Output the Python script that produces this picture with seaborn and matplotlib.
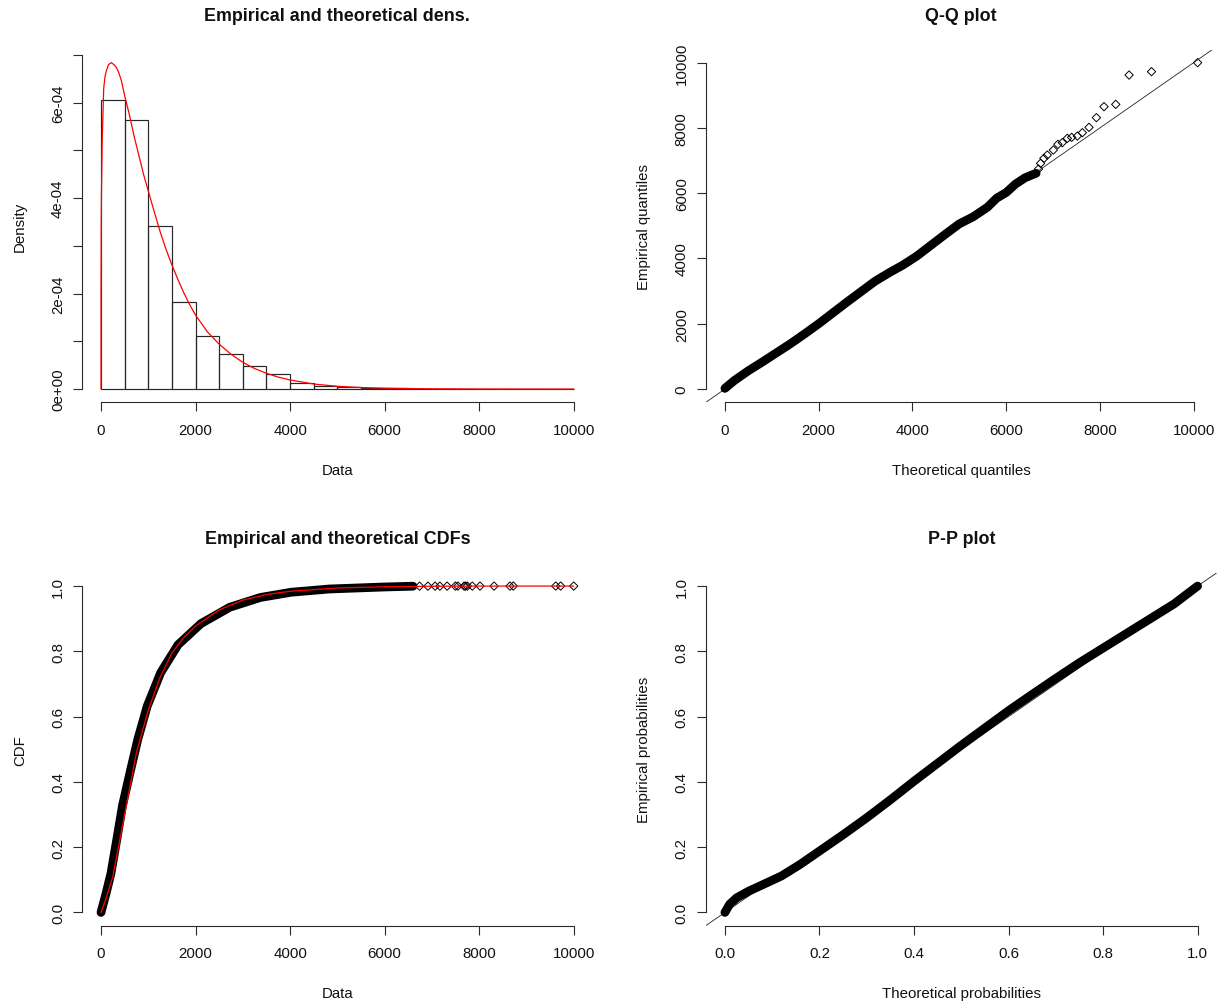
import numpy as np
import pandas as pd
import matplotlib
matplotlib.use("Agg")
import matplotlib.pyplot as plt
import seaborn as sns

# ---------------- data ----------------
bin_edges = [0, 500, 1000, 1500, 2000, 2500, 3000, 3500, 4000, 4500, 5000,
             5500, 6000, 6500, 7000, 7500, 8000, 8500, 9000, 9500, 10000]
hist_density = [6.05e-4, 5.63e-4, 3.41e-4, 1.83e-4, 1.12e-4, 0.735e-4,
                0.483e-4, 0.315e-4, 0.12e-4, 0.063e-4, 0.035e-4, 0.02e-4,
                0.012e-4, 0.005e-4, 0.003e-4, 0.002e-4, 0.002e-4, 0.001e-4,
                0.002e-4, 0.001e-4]

dens_x = [0, 1, 5, 10, 25, 57, 85, 113, 160, 220, 270, 326, 380, 432, 500,
          600, 700, 800, 900, 1000, 1125, 1250, 1375, 1500, 1625, 1750, 1875,
          2000, 2250, 2500, 2750, 3000, 3250, 3500, 3750, 4000, 4500, 5000,
          5500, 6000, 6500, 7000, 8000, 9000, 10000]
dens_y = [0, 2.0e-4, 3.5e-4, 4.1e-4, 5.2e-4, 6.3e-4, 6.55e-4, 6.67e-4,
          6.8e-4, 6.84e-4, 6.8e-4, 6.74e-4, 6.62e-4, 6.46e-4, 6.15e-4,
          5.75e-4, 5.3e-4, 4.9e-4, 4.5e-4, 4.15e-4, 3.72e-4, 3.3e-4, 2.93e-4,
          2.6e-4, 2.3e-4, 2.02e-4, 1.77e-4, 1.55e-4, 1.2e-4, 0.94e-4,
          0.73e-4, 0.56e-4, 0.43e-4, 0.33e-4, 0.25e-4, 0.19e-4, 0.105e-4,
          0.058e-4, 0.032e-4, 0.018e-4, 0.01e-4, 0.0055e-4, 0.0016e-4,
          0.0005e-4, 0.00015e-4]

# Q-Q: dense body of points, then isolated tail points
qq_theo = [0, 200, 500, 800, 1100, 1400, 1700, 2000, 2300, 2600, 2900, 3200,
           3500, 3800, 4100, 4400, 4700, 5000, 5300, 5600, 5800, 6000, 6200,
           6400, 6550, 6640]
qq_emp = [20, 260, 560, 830, 1110, 1390, 1690, 2000, 2330, 2660, 2980, 3300,
          3560, 3800, 4080, 4410, 4740, 5060, 5280, 5570, 5850, 6020, 6280,
          6470, 6560, 6610]
qq_tail_theo = [6690, 6735, 6806, 6878, 7007, 7105, 7199, 7306, 7398, 7520,
                7627, 7768, 7926, 8088, 8339, 8623, 9102, 10085]
qq_tail_emp = [6740, 6915, 7068, 7169, 7322, 7497, 7549, 7681, 7711, 7751,
               7855, 8018, 8315, 8652, 8722, 9620, 9724, 10000]

# CDF panel
cdf_x = [0, 40, 110, 211, 330, 454, 616, 778, 980, 1264, 1629, 2115, 2723,
         3371, 4019, 4830, 5964, 6600]
cdf_emp = [0, 0.022, 0.06, 0.12, 0.22, 0.327, 0.43, 0.53, 0.633, 0.735,
           0.82, 0.885, 0.935, 0.965, 0.981, 0.991, 0.997, 0.9995]
cdf_tail_x = [6740, 6915, 7068, 7169, 7322, 7497, 7549, 7681, 7711, 7751,
              7855, 8018, 8315, 8652, 8722, 9620, 9724, 10000]
cdf_tail_p = [0.9996, 0.9996, 0.9997, 0.9997, 0.9997, 0.9998, 0.9998, 0.9998,
              0.9998, 0.9999, 0.9999, 0.9999, 0.9999, 0.9999, 1.0, 1.0, 1.0,
              1.0]
cdf_theo_x = [0, 100, 250, 500, 750, 1000, 1250, 1500, 1750, 2000, 2500,
              3000, 3500, 4000, 5000, 6000, 7000, 8000, 10000]
cdf_theo_p = [0, 0.04, 0.11, 0.30, 0.49, 0.62, 0.72, 0.795, 0.842, 0.877,
              0.927, 0.957, 0.974, 0.984, 0.994, 0.998, 0.9995, 0.9999, 1.0]

# P-P panel
pp_theo = [0, 0.01, 0.025, 0.05, 0.08, 0.12, 0.16, 0.2, 0.25, 0.3, 0.35, 0.4,
           0.45, 0.5, 0.55, 0.6, 0.65, 0.7, 0.75, 0.8, 0.85, 0.9, 0.95, 0.98,
           1.0]
pp_emp = [0, 0.025, 0.045, 0.065, 0.085, 0.112, 0.148, 0.188, 0.238, 0.29,
          0.345, 0.402, 0.457, 0.512, 0.565, 0.618, 0.668, 0.717, 0.765, 0.81,
          0.855, 0.9, 0.945, 0.978, 1.0]

titles = ["Empirical and theoretical dens.", "Q-Q plot",
          "Empirical and theoretical CDFs", "P-P plot"]
xlabels = ["Data", "Theoretical quantiles", "Data", "Theoretical probabilities"]
ylabels = ["Density", "Empirical quantiles", "CDF", "Empirical probabilities"]

data_ticks = [0, 2000, 4000, 6000, 8000, 10000]
data_tick_labels = ["0", "2000", "4000", "6000", "8000", "10000"]
dens_ticks = [0, 1e-4, 2e-4, 3e-4, 4e-4, 5e-4, 6e-4, 7e-4]
dens_tick_labels = ["0e+00", "", "2e-04", "", "4e-04", "", "6e-04", ""]
prob_ticks = [0, 0.2, 0.4, 0.6, 0.8, 1.0]
prob_tick_labels = ["0.0", "0.2", "0.4", "0.6", "0.8", "1.0"]

# ---------------- style ----------------
sns.set_style("white")
plt.rcParams["font.family"] = ["Liberation Sans", "DejaVu Sans"]

W, H = 1217, 1003
fig = plt.figure(figsize=(W / 100, H / 100), dpi=100)
fig.patch.set_facecolor("white")

AXW, AXH = 510.5, 352.5
def make_ax(left_px, top_px):
    return fig.add_axes([left_px / W, 1 - (top_px + AXH) / H, AXW / W, AXH / H])

ax_d = make_ax(82.1, 50.6)
ax_q = make_ax(706.0, 50.6)
ax_c = make_ax(82.1, 574.0)
ax_p = make_ax(706.0, 574.0)

AXC = "#2a2a2a"
TXT = "#111111"
FS = 10.8
BAND = 6.3

def style(ax, xlim, ylim, xt, xtl, yt, ytl, title, xl, yl):
    ax.set_facecolor("white")
    ax.set_xlim(xlim)
    ax.set_ylim(ylim)
    for s in ["top", "right"]:
        ax.spines[s].set_visible(False)
    ax.spines["bottom"].set_bounds(xt[0], xt[-1])
    ax.spines["left"].set_bounds(yt[0], yt[-1])
    for s in ["bottom", "left"]:
        ax.spines[s].set_color(AXC)
        ax.spines[s].set_linewidth(0.8)
    ax.set_xticks(xt)
    ax.set_xticklabels(xtl)
    ax.set_yticks(yt)
    ax.set_yticklabels(ytl)
    ax.tick_params(axis="both", which="major", direction="out", length=6.8,
                   width=0.8, color=AXC, labelsize=FS, labelcolor=TXT,
                   bottom=True, left=True, top=False, right=False)
    ax.tick_params(axis="x", pad=8.3)
    ax.tick_params(axis="y", pad=5.6, labelrotation=90)
    for lab in ax.get_yticklabels():
        lab.set_va("center")
    ax.set_xlabel(xl, fontsize=FS, color=TXT)
    ax.xaxis.set_label_coords(0.5, -67.5 / AXH)
    ax.xaxis.label.set_va("center")
    ax.set_ylabel(yl, fontsize=FS, color=TXT)
    ax.yaxis.set_label_coords(-62 / AXW, 0.5)
    ax.yaxis.label.set_va("center")
    ax.text(0.5, 1 + 34.0 / AXH, title, transform=ax.transAxes, ha="center",
            va="center", fontsize=12.9, fontweight="bold", color=TXT)

# ---------------- panel 1: histogram + density ----------------
bin_mids = [(a + b) / 2 for a, b in zip(bin_edges[:-1], bin_edges[1:])]
sns.histplot(x=bin_mids, weights=hist_density, bins=bin_edges, stat="count",
             fill=False, element="bars", color="#262626", linewidth=0.85,
             ax=ax_d)
sns.lineplot(x=dens_x, y=dens_y, sort=False, estimator=None, color="red",
             linewidth=0.9, ax=ax_d)
dmax = max(max(dens_y), max(hist_density))
style(ax_d, (-400, 10400), (-0.04 * dmax, 1.04 * dmax), data_ticks,
      data_tick_labels, dens_ticks, dens_tick_labels, titles[0], xlabels[0],
      ylabels[0])

# ---------------- panel 2: Q-Q ----------------
ax_q.axline((0, 0), slope=1, color="#222222", linewidth=0.6)
sns.lineplot(x=qq_theo, y=qq_emp, sort=False, estimator=None, color="black",
             linewidth=BAND, solid_capstyle="round", solid_joinstyle="round",
             ax=ax_q)
sns.scatterplot(x=qq_tail_theo, y=qq_tail_emp, marker="D", s=18,
                facecolor="none", edgecolor="black", linewidth=0.7, ax=ax_q)
qx_max = max(qq_tail_theo)
qy_max = max(qq_tail_emp)
style(ax_q, (-0.04 * qx_max, 1.04 * qx_max), (-0.04 * qy_max, 1.04 * qy_max),
      data_ticks, data_tick_labels, data_ticks, data_tick_labels, titles[1],
      xlabels[1], ylabels[1])

# ---------------- panel 3: CDF ----------------
sns.lineplot(x=cdf_x, y=cdf_emp, sort=False, estimator=None, color="black",
             linewidth=BAND, solid_capstyle="round", solid_joinstyle="round",
             ax=ax_c)
sns.scatterplot(x=cdf_tail_x, y=cdf_tail_p, marker="D", s=18,
                facecolor="none", edgecolor="black", linewidth=0.7, ax=ax_c)
sns.lineplot(x=cdf_theo_x, y=cdf_theo_p, sort=False, estimator=None,
             color="red", linewidth=0.9, ax=ax_c)
style(ax_c, (-400, 10400), (-0.04, 1.04), data_ticks, data_tick_labels,
      prob_ticks, prob_tick_labels, titles[2], xlabels[2], ylabels[2])

# ---------------- panel 4: P-P ----------------
ax_p.axline((0, 0), slope=1, color="#222222", linewidth=0.6)
sns.lineplot(x=pp_theo, y=pp_emp, sort=False, estimator=None, color="black",
             linewidth=BAND, solid_capstyle="round", solid_joinstyle="round",
             ax=ax_p)
style(ax_p, (-0.04, 1.04), (-0.04, 1.04), prob_ticks, prob_tick_labels,
      prob_ticks, prob_tick_labels, titles[3], xlabels[3], ylabels[3])

for ax in (ax_d, ax_q, ax_c, ax_p):
    leg = ax.get_legend()
    if leg is not None:
        leg.remove()

fig.savefig("out.png", dpi=100, facecolor="white")
